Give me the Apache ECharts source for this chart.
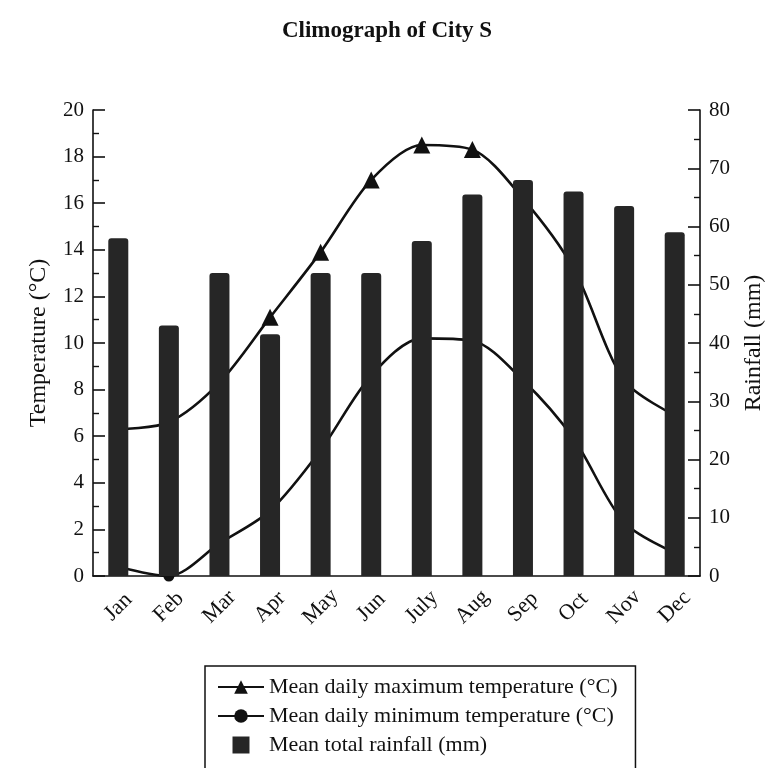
<!DOCTYPE html>
<html><head><meta charset="utf-8">
<script src="https://cdn.jsdelivr.net/npm/echarts@6/dist/echarts.min.js"></script>
<style>html,body{margin:0;padding:0;background:#fff}#c{width:774px;height:768px}</style>
</head><body><div id="c"></div>
<script>
const months = ['Jan','Feb','Mar','Apr','May','Jun','July','Aug','Sep','Oct','Nov','Dec'];
const maxTemp = [6.3, 6.6, 8.3, 11.1, 13.9, 17.0, 18.5, 18.3, 16.2, 13.2, 8.4, 6.9];
const minTemp = [0.4, 0.0, 1.4, 2.8, 5.4, 8.6, 10.2, 10.1, 8.4, 5.9, 2.3, 1.0];
const rainfall = [58, 43, 52, 41.5, 52, 52, 57.5, 65.5, 68, 66, 63.5, 59];
const tempAxis = {min: 0, max: 20, interval: 2};
const rainAxis = {min: 0, max: 80, interval: 10};
const seriesNames = ['Mean daily maximum temperature (°C)', 'Mean daily minimum temperature (°C)', 'Mean total rainfall (mm)'];
const titleText = 'Climograph of City S';
const tempName = 'Temperature (°C)';
const rainName = 'Rainfall (mm)';

const F = '"Liberation Serif", "DejaVu Serif", serif';
const INK = '#111';
const chart = echarts.init(document.getElementById('c'), null, {renderer: 'canvas'});
const axisCommon = {
  axisLine: {show: true, lineStyle: {color: INK, width: 1.6}},
  axisTick: {show: true, inside: true, length: 12, lineStyle: {color: INK, width: 1.6}},
  minorTick: {show: true, splitNumber: 2, length: 6, lineStyle: {color: INK, width: 1.4}},
  splitLine: {show: false},
  nameLocation: 'middle',
  nameRotate: 90,
  nameGap: 42,
  nameTextStyle: {fontFamily: F, fontSize: 24, color: INK},
  axisLabel: {fontFamily: F, fontSize: 21, color: INK, margin: 9}
};
chart.setOption({
  backgroundColor: '#fff',
  animation: false,
  title: {text: titleText, left: 'center', top: 15,
    textStyle: {fontFamily: F, fontSize: 23, fontWeight: 'bold', color: INK}},
  grid: {left: 93, right: 62, top: 110, bottom: 192},
  legend: {
    orient: 'vertical', left: 205, top: 666, height: 140,
    data: [{name: seriesNames[0]}, {name: seriesNames[1]}, {name: seriesNames[2], icon: 'path://M0,0H10V10H0Z'}],
    itemWidth: 46, itemHeight: 17, itemGap: 7,
    padding: [10, 18, 30, 12],
    borderColor: INK, borderWidth: 1.5, backgroundColor: '#fff',
    textStyle: {fontFamily: F, fontSize: 22, color: INK}
  },
  xAxis: {
    type: 'category', data: months, boundaryGap: true,
    axisLine: {lineStyle: {color: INK, width: 1.6}},
    axisTick: {inside: true, length: 10, alignWithLabel: false, lineStyle: {color: INK, width: 1.6}},
    axisLabel: {rotate: 45, align: 'center', verticalAlign: 'middle', margin: 31, interval: 0,
      fontFamily: F, fontSize: 22, color: INK}
  },
  yAxis: [
    Object.assign({}, axisCommon, {type: 'value', position: 'left', name: tempName}, tempAxis),
    Object.assign({}, axisCommon, {type: 'value', position: 'right', name: rainName}, rainAxis)
  ],
  series: [
    {name: seriesNames[0], type: 'line', yAxisIndex: 0, data: maxTemp, smooth: 0.3,
      symbol: 'triangle', symbolSize: 17, lineStyle: {color: INK, width: 2.6}, itemStyle: {color: INK}, z: 2},
    {name: seriesNames[1], type: 'line', yAxisIndex: 0, data: minTemp, smooth: 0.3,
      symbol: 'circle', symbolSize: 11, lineStyle: {color: INK, width: 2.6}, itemStyle: {color: INK}, z: 2},
    {name: seriesNames[2], type: 'bar', yAxisIndex: 1, data: rainfall, barWidth: 20,
      itemStyle: {color: '#262626', borderRadius: [3, 3, 0, 0]}, z: 3}
  ]
});
</script>
</body></html>
